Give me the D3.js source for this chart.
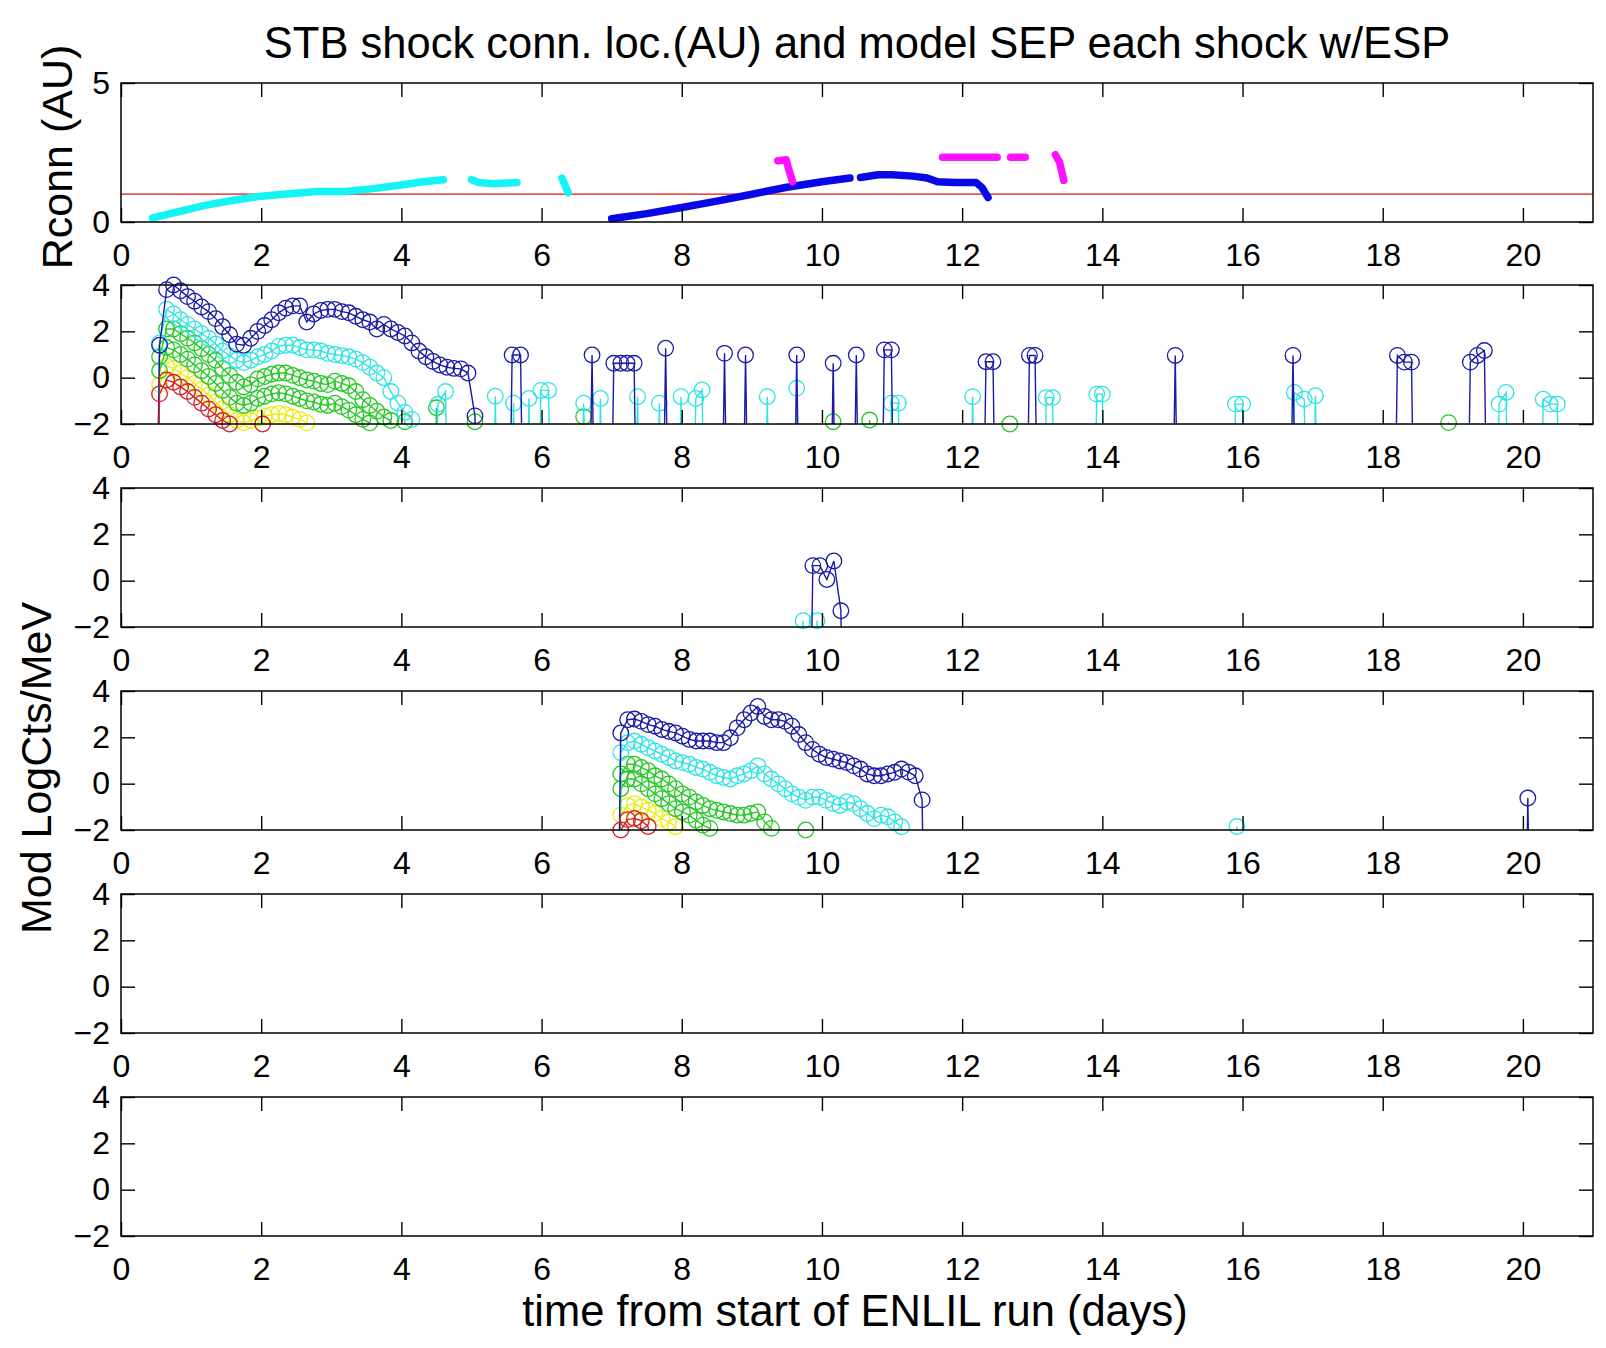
<!DOCTYPE html>
<html>
<head>
<meta charset="utf-8">
<script src="https://cdn.jsdelivr.net/npm/d3@7"></script>
<style>
  body { margin: 0; background: #ffffff; }
  text { font-family: "Liberation Sans", Arial, Helvetica, sans-serif; fill: #000; }
</style>
</head>
<body>
<svg id="chart" width="1606" height="1348"></svg>
<script>
// ---------------------------------------------------------------------------
// Data
// ---------------------------------------------------------------------------
const xTicks = [0, 2, 4, 6, 8, 10, 12, 14, 16, 18, 20];
const rconnTicks = [0, 5];
const logTicks = [-2, 0, 2, 4];
const rconnReference = 1;          // 1 AU reference line

// Shock connection distance (days, AU) – each array is one unbroken trace
const rconnCyan = [
  [[0.45, 0.15], [0.8, 0.36], [1.2, 0.6], [1.6, 0.78], [2.0, 0.93], [2.4, 1.02], [2.8, 1.1],
   [3.2, 1.1], [3.6, 1.2], [4.0, 1.33], [4.3, 1.45], [4.6, 1.52]],
  [[5.0, 1.52], [5.1, 1.42], [5.3, 1.38], [5.5, 1.4], [5.65, 1.42]],
  [[6.29, 1.58], [6.38, 1.05]]
];
const rconnBlue = [
  [[7.0, 0.12], [7.5, 0.3], [8.0, 0.52], [8.5, 0.75], [9.0, 1.0], [9.5, 1.25], [10.0, 1.45], [10.4, 1.58]],
  [[10.55, 1.6], [10.8, 1.7], [11.0, 1.7], [11.3, 1.65], [11.5, 1.58], [11.65, 1.45], [11.9, 1.42],
   [12.2, 1.42], [12.28, 1.25], [12.37, 0.88]]
];
const rconnMagenta = [
  [[9.37, 2.2], [9.49, 2.24], [9.52, 1.95], [9.58, 1.45]],
  [[11.72, 2.33], [12.5, 2.33]],
  [[12.69, 2.33], [12.9, 2.33]],
  [[13.33, 2.42], [13.39, 2.15], [13.45, 1.5]]
];

// Shock 1 event (second panel), sampled from EV1_T0 every EV1_DT days
const EV1_T0 = 0.55, EV1_DT = 0.1;
const ev1Blue = [1.4, 3.8, 4.0, 3.75, 3.5, 3.3, 3.05, 2.85, 2.55, 2.2, 1.85, 1.45, 1.4, 1.7, 2.0, 2.25,
  2.5, 2.8, 3.0, 3.1, 3.1, 2.4, 2.75, 2.9, 2.95, 2.95, 2.85, 2.8, 2.65, 2.5, 2.4, 2.1, 2.3, 2.1, 1.95,
  1.8, 1.5, 1.15, 0.9, 0.7, 0.55, 0.45, 0.4, 0.38, 0.2, -1.65];
const ev1Cyan = [1.5, 2.95, 2.75, 2.5, 2.3, 2.1, 1.9, 1.7, 1.45, 1.15, 0.95, 0.75, 0.65, 0.75, 0.9, 1.0,
  1.15, 1.35, 1.4, 1.4, 1.3, 1.2, 1.2, 1.15, 1.05, 1.0, 0.95, 0.9, 0.8, 0.65, 0.45, 0.2, 0.0, -0.6,
  -1.1, -1.5, -1.8];
const ev1GreenHi = [0.9, 2.1, 2.1, 1.9, 1.7, 1.5, 1.25, 1.0, 0.75, 0.4, 0.1, -0.2, -0.4, -0.3, -0.05,
  0.05, 0.15, 0.2, 0.2, 0.1, 0.0, -0.1, -0.15, -0.25, -0.3, -0.15, -0.25, -0.35, -0.6, -0.95, -1.2,
  -1.45, -1.7, -1.85];
const ev1GreenLo = [0.3, 1.3, 1.2, 1.0, 0.8, 0.55, 0.3, 0.05, -0.25, -0.55, -0.85, -1.1, -1.2, -1.1,
  -0.9, -0.8, -0.7, -0.65, -0.7, -0.8, -0.9, -1.0, -1.05, -1.15, -1.2, -1.1, -1.25, -1.4, -1.6, -1.8,
  -1.95];
const ev1Yellow = [-0.3, 0.5, 0.4, 0.2, 0.0, -0.25, -0.5, -0.75, -1.05, -1.35, -1.6, -1.85, -1.95,
  -1.85, -1.75, -1.65, -1.6, -1.55, -1.6, -1.7, -1.8, -1.95];
const ev1Red = [-0.7, -0.1, -0.2, -0.4, -0.6, -0.85, -1.1, -1.35, -1.6, -1.85, -2.0];

// Isolated counts in the second panel (day, log counts)
const p2Blue = [[5.58, 0.98], [5.7, 0.98], [6.72, 0.98], [7.03, 0.62], [7.13, 0.62], [7.22, 0.62],
  [7.32, 0.62], [7.77, 1.27], [8.61, 1.05], [8.91, 0.98], [9.64, 0.98], [10.16, 0.62], [10.49, 0.98],
  [10.89, 1.2], [10.99, 1.2], [12.34, 0.69], [12.44, 0.69], [12.96, 0.96], [13.04, 0.96], [15.04, 0.96],
  [16.72, 0.96], [18.21, 0.96], [18.31, 0.67], [18.41, 0.67], [19.25, 0.67], [19.35, 0.96], [19.45, 1.17]];
const p2Cyan = [[4.52, -1.15], [4.63, -0.6], [5.34, -0.8], [5.6, -1.1], [5.82, -0.9], [5.99, -0.55],
  [6.1, -0.55], [6.6, -1.1], [6.84, -0.9], [7.37, -0.82], [7.68, -1.1], [7.99, -0.82], [8.2, -0.9],
  [8.29, -0.53], [9.22, -0.82], [9.64, -0.46], [10.99, -1.1], [11.09, -1.1], [12.15, -0.82],
  [13.2, -0.86], [13.29, -0.86], [13.92, -0.71], [14.0, -0.71], [15.9, -1.14], [16.0, -1.14],
  [16.74, -0.64], [16.88, -0.93], [17.04, -0.78], [19.66, -1.14], [19.76, -0.64], [20.29, -0.93],
  [20.39, -1.14], [20.49, -1.14]];
const p2Green = [[4.05, -1.9], [4.5, -1.3], [5.05, -1.9], [6.6, -1.68], [10.16, -1.9], [10.68, -1.83],
  [12.68, -2.0], [18.94, -1.94]];
const p2Red = [[2.02, -2.0]];

// Third panel
const p3Blue = [[9.87, 0.65], [9.97, 0.65], [10.07, 0.05], [10.17, 0.85], [10.27, -1.3]];
const p3Cyan = [[9.73, -1.73], [9.93, -1.73]];

// Shock 2 event (fourth panel), sampled from EV2_T0 every EV2_DT days
const EV2_T0 = 7.13, EV2_DT = 0.0977;
const ev2Blue = [2.19, 2.76, 2.79, 2.69, 2.55, 2.48, 2.34, 2.26, 2.19, 2.05, 1.91, 1.84, 1.84, 1.84,
  1.77, 1.77, 1.98, 2.41, 2.76, 3.05, 3.33, 2.9, 2.76, 2.76, 2.69, 2.48, 2.12, 1.77, 1.48, 1.27, 1.13,
  1.06, 0.98, 0.91, 0.77, 0.63, 0.42, 0.34, 0.34, 0.42, 0.49, 0.63, 0.5, 0.34, -0.7];
const ev2Cyan = [1.34, 1.77, 1.84, 1.7, 1.55, 1.41, 1.27, 1.13, 0.98, 0.91, 0.84, 0.7, 0.63, 0.49, 0.34,
  0.27, 0.2, 0.34, 0.42, 0.56, 0.77, 0.42, 0.2, -0.01, -0.22, -0.44, -0.58, -0.72, -0.58, -0.58, -0.72,
  -0.86, -0.94, -0.79, -0.86, -1.08, -1.29, -1.51, -1.36, -1.43, -1.65, -1.86];
const ev2GreenHi = [0.42, 0.84, 0.84, 0.7, 0.56, 0.34, 0.2, -0.01, -0.22, -0.44, -0.58, -0.79, -0.94,
  -1.08, -1.15, -1.22, -1.29, -1.36, -1.36, -1.29, -1.22, -1.65, -1.93];
const ev2GreenLo = [-0.22, 0.2, 0.2, -0.01, -0.22, -0.44, -0.65, -0.86, -1.08, -1.22, -1.36, -1.58,
  -1.79, -1.93];
const ev2Yellow = [-1.36, -0.94, -0.86, -1.01, -1.15, -1.29, -1.51, -1.65, -1.86];
const ev2Red = [-2.0, -1.55, -1.5, -1.6, -1.85];

const p4Green = [[9.77, -2.0]];
const p4Blue = [[20.07, -0.62]];
const p4Cyan = [[15.92, -1.85]];

// ---------------------------------------------------------------------------
// Layout and styles
// ---------------------------------------------------------------------------
const svg = d3.select("#chart");
const X0 = 121, X1 = 1593;
const panelTops = [83, 285, 488, 691, 894, 1097];
const PH = 139;
const TICK = 14;
const FLOOR = -20;       // level used for samples with no counts
const GAP = 0.15;        // samples further apart than this are not joined
const STEP = 0.1;        // drop to the floor one sample before/after a run

const colors = {
  blue: "#1a1aa6", cyan: "#2fe4e4", green: "#24c824", yellow: "#ecec14", red: "#d42020"
};

const x = d3.scaleLinear().domain([0, 21]).range([X0, X1]);

function sampled(t0, dt, vals) { return vals.map((v, i) => [t0 + i * dt, v]); }

function drawFrame(g, y, yTicks, top) {
  const bottom = top + PH;
  g.append("g").attr("transform", `translate(0,${bottom})`)
    .call(d3.axisBottom(x).tickValues(xTicks).tickSizeInner(-TICK).tickSizeOuter(0).tickPadding(21)
      .tickFormat(d3.format("d")))
    .call(a => a.select(".domain").remove())
    .call(a => a.selectAll("text").style("font-size", "32px"))
    .call(a => a.selectAll("line").attr("stroke", "#000").attr("stroke-width", 1.4));
  g.append("g").attr("transform", `translate(0,${top})`)
    .call(d3.axisTop(x).tickValues(xTicks).tickSizeInner(-TICK).tickSizeOuter(0).tickFormat(""))
    .call(a => a.select(".domain").remove())
    .call(a => a.selectAll("line").attr("stroke", "#000").attr("stroke-width", 1.4));
  g.append("g").attr("transform", `translate(${X0},0)`)
    .call(d3.axisLeft(y).tickValues(yTicks).tickSizeInner(-TICK).tickSizeOuter(0).tickPadding(11)
      .tickFormat(d3.format("d")))
    .call(a => a.select(".domain").remove())
    .call(a => a.selectAll("text").style("font-size", "32px"))
    .call(a => a.selectAll("line").attr("stroke", "#000").attr("stroke-width", 1.4));
  g.append("g").attr("transform", `translate(${X1},0)`)
    .call(d3.axisRight(y).tickValues(yTicks).tickSizeInner(-TICK).tickSizeOuter(0).tickFormat(""))
    .call(a => a.select(".domain").remove())
    .call(a => a.selectAll("line").attr("stroke", "#000").attr("stroke-width", 1.4));
  g.append("rect").attr("x", X0).attr("y", top).attr("width", X1 - X0).attr("height", PH)
    .attr("fill", "none").attr("stroke", "#000").attr("stroke-width", 1.5);
}

// ---------------------------------------------------------------------------
// Panel 1: shock connection distance
// ---------------------------------------------------------------------------
{
  const top = panelTops[0];
  const y = d3.scaleLinear().domain([0, 5]).range([top + PH, top]);
  const g = svg.append("g");
  const line = d3.line().x(d => x(d[0])).y(d => y(d[1])).curve(d3.curveLinear);
  g.append("line").attr("x1", X0).attr("x2", X1)
    .attr("y1", y(rconnReference)).attr("y2", y(rconnReference))
    .attr("stroke", "#e01010").attr("stroke-width", 1.3);
  [[rconnCyan, "#14f4f4"], [rconnBlue, "#0808e8"], [rconnMagenta, "#ff10ff"]].forEach(([segs, c]) => {
    segs.forEach(s => g.append("path").attr("d", line(s)).attr("fill", "none")
      .attr("stroke", c).attr("stroke-width", 7.5).attr("stroke-linecap", "round")
      .attr("stroke-linejoin", "round"));
  });
  drawFrame(g, y, rconnTicks, top);
}

// ---------------------------------------------------------------------------
// Panels 2-6: modelled log counts per shock
// ---------------------------------------------------------------------------
const logPanels = [
  { // shock 1
    yellow: sampled(EV1_T0, EV1_DT, ev1Yellow),
    greenLo: sampled(EV1_T0, EV1_DT, ev1GreenLo),
    greenHi: sampled(EV1_T0, EV1_DT, ev1GreenHi).concat(p2Green),
    cyan: sampled(EV1_T0, EV1_DT, ev1Cyan).concat(p2Cyan),
    blue: sampled(EV1_T0, EV1_DT, ev1Blue).concat(p2Blue),
    red: sampled(EV1_T0, EV1_DT, ev1Red).concat(p2Red)
  },
  { cyan: p3Cyan, blue: p3Blue },
  {
    yellow: sampled(EV2_T0, EV2_DT, ev2Yellow),
    greenLo: sampled(EV2_T0, EV2_DT, ev2GreenLo),
    greenHi: sampled(EV2_T0, EV2_DT, ev2GreenHi).concat(p4Green),
    cyan: sampled(EV2_T0, EV2_DT, ev2Cyan).concat(p4Cyan),
    blue: sampled(EV2_T0, EV2_DT, ev2Blue).concat(p4Blue),
    red: sampled(EV2_T0, EV2_DT, ev2Red)
  },
  {},
  {}
];
const drawOrder = [["yellow", "yellow"], ["greenLo", "green"], ["greenHi", "green"],
                   ["cyan", "cyan"], ["blue", "blue"], ["red", "red"]];

// Join samples into a trace; runs are closed by drops to the floor level
function trace(pts) {
  const s = pts.slice().sort((a, b) => a[0] - b[0]);
  const out = [];
  s.forEach((p, i) => {
    if (i === 0 || p[0] - s[i - 1][0] > GAP) {
      if (i > 0) out.push([s[i - 1][0] + STEP, FLOOR]);
      out.push([p[0] - STEP, FLOOR]);
    }
    out.push(p);
  });
  if (s.length) out.push([s[s.length - 1][0] + STEP, FLOOR]);
  return out;
}

logPanels.forEach((panel, k) => {
  const top = panelTops[k + 1];
  const y = d3.scaleLinear().domain([-2, 4]).range([top + PH, top]);
  const g = svg.append("g");
  const clipId = "clip" + k;
  g.append("clipPath").attr("id", clipId).append("rect")
    .attr("x", X0).attr("y", top).attr("width", X1 - X0).attr("height", PH);
  const line = d3.line().x(d => x(d[0])).y(d => y(d[1]));
  drawOrder.forEach(([key, col]) => {
    const pts = panel[key];
    if (!pts) return;
    g.append("path").attr("d", line(trace(pts))).attr("fill", "none")
      .attr("stroke", colors[col]).attr("stroke-width", 1.4)
      .attr("clip-path", `url(#${clipId})`);
    g.append("g").selectAll("circle")
      .data(pts.filter(p => p[1] >= -2.2 && p[1] <= 4.2))
      .join("circle")
      .attr("cx", d => x(d[0])).attr("cy", d => y(d[1])).attr("r", 7.8)
      .attr("fill", "none").attr("stroke", colors[col]).attr("stroke-width", 1.3);
  });
  drawFrame(g, y, logTicks, top);
});

// ---------------------------------------------------------------------------
// Titles
// ---------------------------------------------------------------------------
svg.append("text").attr("x", 857).attr("y", 58).attr("text-anchor", "middle")
  .style("font-size", "43.5px").text("STB shock conn. loc.(AU) and model SEP each shock w/ESP");
svg.append("text").attr("x", 855).attr("y", 1326).attr("text-anchor", "middle")
  .style("font-size", "43.5px").text("time from start of ENLIL run (days)");
svg.append("text").attr("transform", "translate(72,157) rotate(-90)").attr("text-anchor", "middle")
  .style("font-size", "43px").text("Rconn (AU)");
svg.append("text").attr("transform", "translate(51,768) rotate(-90)").attr("text-anchor", "middle")
  .style("font-size", "43px").text("Mod LogCts/MeV");
</script>
</body>
</html>
